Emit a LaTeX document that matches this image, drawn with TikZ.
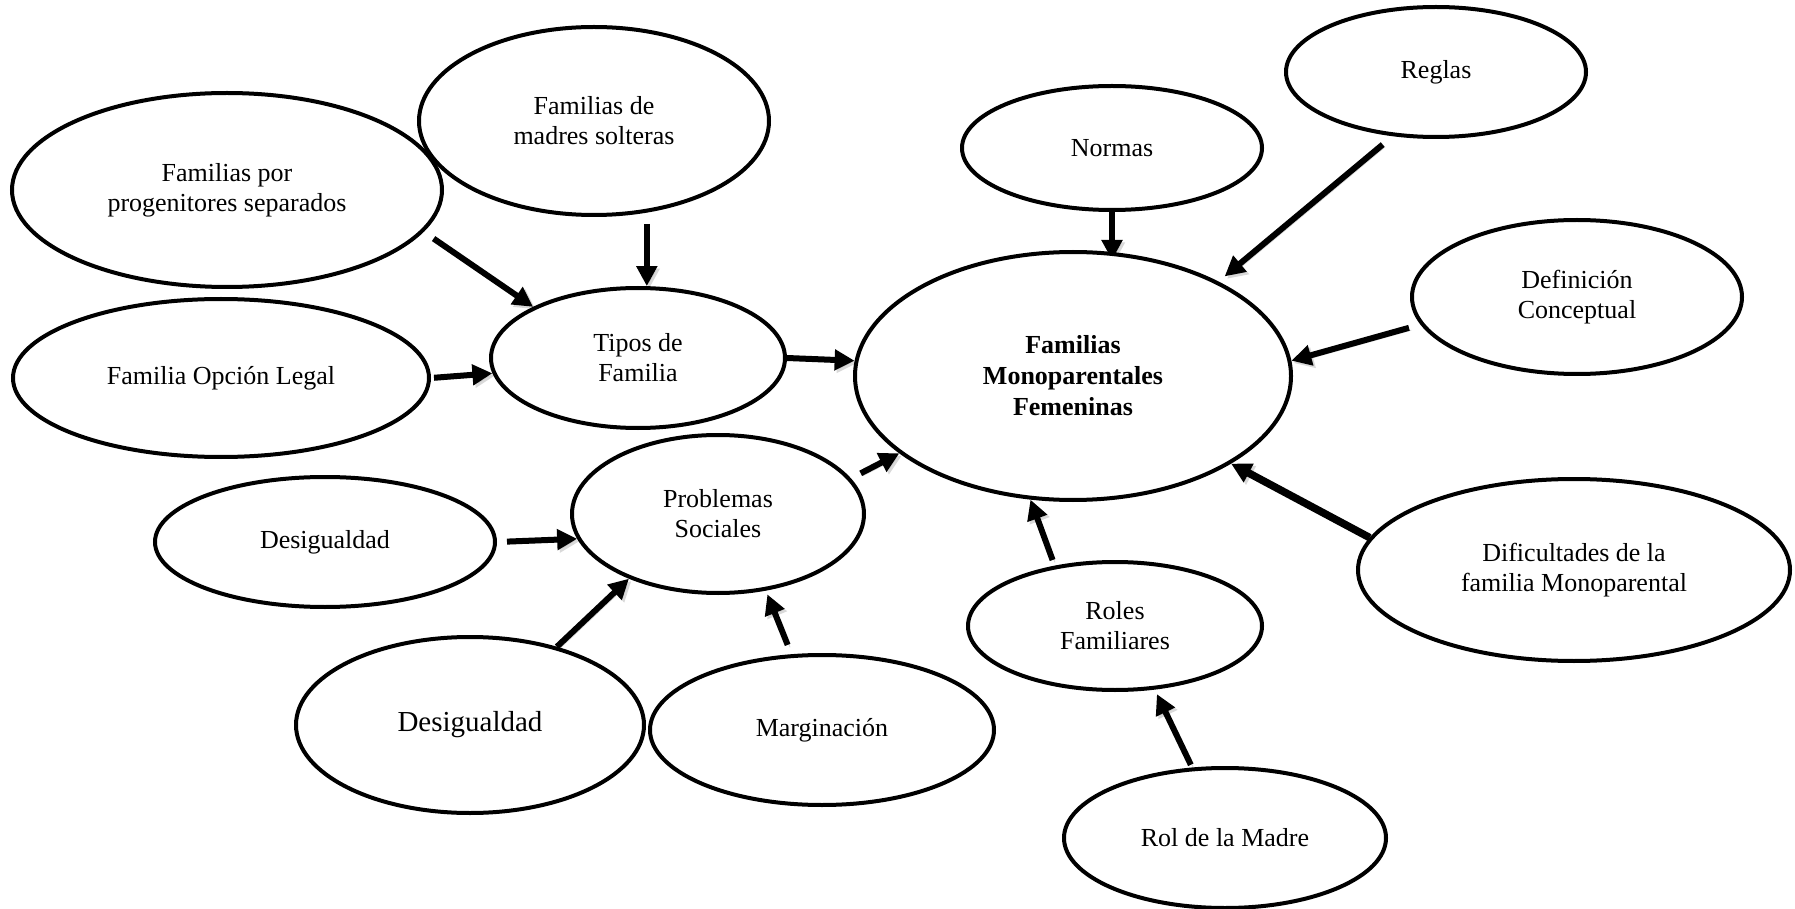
\documentclass[tikz,border=0pt]{standalone}
\usepackage{fontspec}
\setmainfont{Liberation Serif}
\usetikzlibrary{shapes.geometric,arrows.meta}
\pgfdeclarelayer{back}
\pgfsetlayers{back,main}
\tikzset{
  bubble/.style={ellipse, draw, line width=2pt, fill=white, inner sep=0pt,
    align=center, font=\fontsize{13}{15}\selectfont},
  flecha/.style={line width=3pt, -{Triangle[length=10pt,width=10pt]},
    preaction={draw=black!25, opacity=0.6, transform canvas={shift={(1.2pt,-1.2pt)}}}}
}
\begin{document}
\begin{tikzpicture}[x=0.5pt,y=-0.5pt]
  \useasboundingbox (0,0) rectangle (1795,909);
  % ellipses: name/centre x/centre y/half width/half height/text
  \foreach \n/\cx/\cy/\w/\h/\t in {
    prog/227/190/215/97/{Familias por\\progenitores separados},
    madres/594/121/175/94/{Familias de\\madres solteras},
    legal/221/378/208/79/{Familia Opción Legal},
    tipos/638/358/147/70/{Tipos de\\Familia},
    normas/1112/148/150/62/{Normas},
    reglas/1436/72/150/65/{Reglas},
    defin/1577/297/165/77/{Definición\\Conceptual},
    dific/1574/570/216/91/{Dificultades de la\\familia Monoparental},
    roles/1115/626/147/64/{Roles\\Familiares},
    madre/1225/838/161/70/{Rol de la Madre},
    problemas/718/514/146/79/{Problemas\\Sociales},
    desigA/325/542/170/65/{Desigualdad},
    margin/822/730/172/75/{Marginación}}
    \node[bubble, minimum width=\w pt, minimum height=\h pt] (\n) at (\cx,\cy) {\t};
  \node[bubble, minimum width=174pt, minimum height=88pt,
    font=\fontsize{14.5}{17}\selectfont] (desigB) at (470,725) {Desigualdad};
  \node[bubble, minimum width=218pt, minimum height=124pt,
    font=\fontsize{13}{15.5}\selectfont\bfseries] (fmf) at (1073,376)
    {Familias\\Monoparentales\\Femeninas};
  \begin{pgfonlayer}{back}
    \draw[flecha, shorten <=6pt] (prog.-12) -- (tipos.154);
    \draw[flecha] ([yshift=-3.5pt]tipos.83 |- madres.south) -- (tipos.83);
    \draw[flecha, shorten <=1.5pt] (legal.east) -- (tipos.186);
    \draw[flecha] (tipos.east) -- (fmf.176);
    \draw[flecha] (normas.south) -- ([yshift=-5pt]normas.south |- fmf.north);
    \draw[flecha, shorten <=6.5pt, shorten >=4pt] (reglas.-124) -- (fmf.33);
    \draw[flecha, shorten <=6pt] (defin.190) -- (fmf.4);
    \draw[flecha, line width=3.8pt] (dific.171) -- (fmf.-29);
    \draw[flecha, shorten <=3pt] (roles.135) -- (fmf.251);
    \draw[flecha, shorten <=1.5pt, shorten >=2.5pt] (madre.115) -- (roles.-58);
    \draw[flecha, shorten <=5pt] (desigA.east) -- (problemas.190);
    \draw[flecha] (desigB.42) -- (problemas.216);
    \draw[flecha, shorten <=5pt, shorten >=2pt] (margin.112) -- (problemas.-58);
    \draw[flecha, shorten <=5.5pt] (problemas.15) -- (fmf.204);
  \end{pgfonlayer}
\end{tikzpicture}
\end{document}
